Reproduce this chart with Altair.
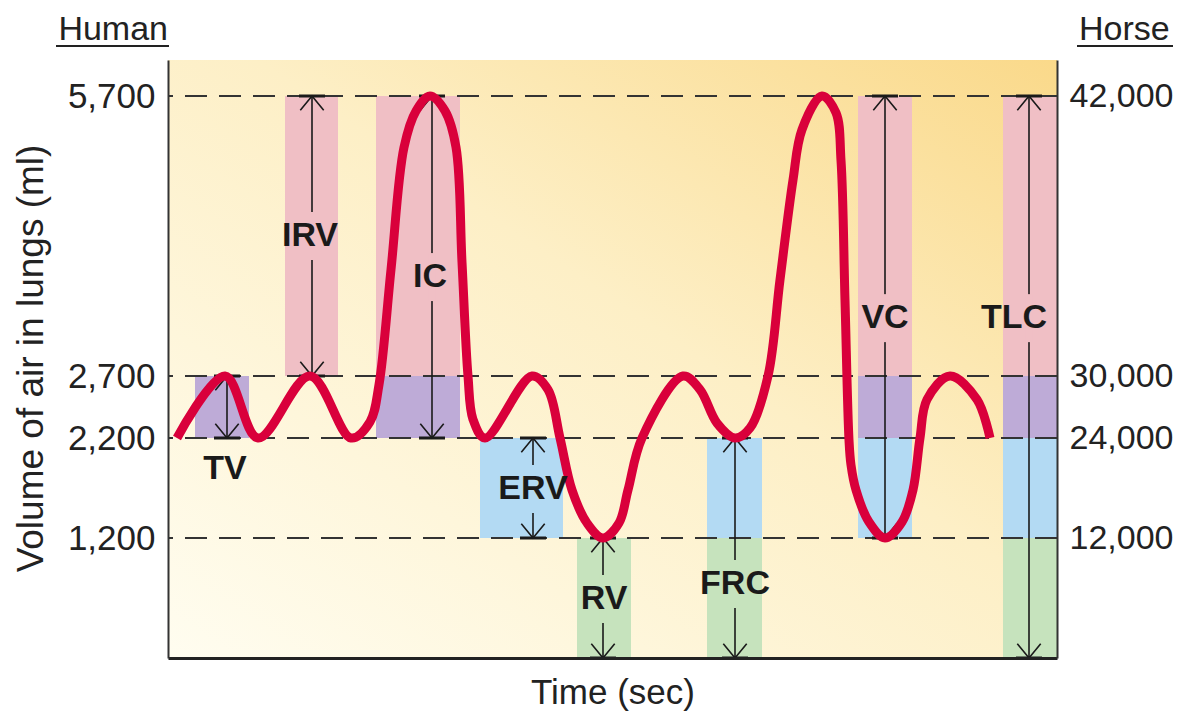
import altair as alt
import pandas as pd

FONT = "Liberation Sans"

# ---------------- data ----------------
titles = ["Human", "Horse"]
human_levels = [1200, 2200, 2700, 5700]
horse_levels = [12000, 24000, 30000, 42000]

# breathing trace, points (time units, ml)
curve_t = [9, 57, 90, 142, 183, 202, 211, 223, 236, 248, 262, 277, 288, 294, 300, 305, 317,
           364, 380, 392, 404, 419, 435, 451, 460, 474, 515, 532, 549, 567,
           582, 600, 612, 625, 634, 654, 668, 673, 677, 681, 683, 688, 701, 717,
           734, 745, 752, 759, 782, 809, 822]
curve_ml = [2200, 2700, 2200, 2700, 2200, 2330, 2630, 3840, 5150, 5540, 5700, 5540, 5150, 3920, 2700, 2350, 2200,
            2700, 2590, 2200, 1680, 1350, 1200, 1350, 1680, 2200, 2700, 2590, 2320, 2200,
            2280, 2700, 3730, 4800, 5340, 5700, 5520, 5010, 3510, 2180, 1930, 1680, 1360, 1200,
            1360, 1680, 2200, 2510, 2700, 2510, 2200]

band_names = ["RV", "ERV", "TV", "IRV"]
band_low = [0, 1200, 2200, 2700]
band_high = [1200, 2200, 2700, 5700]
band_colors = ["#C6E3BD", "#B3DAF3", "#BEABD7", "#F0BFC5"]

box_names = ["TV", "IRV", "IC", "ERV", "RV", "FRC", "VC", "TLC"]
box_t0 = [27, 117, 208, 312, 409, 539, 690, 835]
box_t1 = [81, 170, 292, 395, 463, 594, 744, 889]
box_parts = [["TV"], ["IRV"], ["IRV", "TV"], ["ERV"], ["RV"], ["ERV", "RV"],
             ["IRV", "TV", "ERV"], ["IRV", "TV", "ERV", "RV"]]
arrow_t = [59, 144, 264, 365, 435, 567, 717, 861]
arrow_lo = [2200, 2700, 2200, 1200, 0, 0, 1200, 0]
arrow_hi = [2700, 5700, 5700, 2200, 1200, 2200, 5700, 5700]
label_t = [57, 142, 262, 365, 436, 567, 717, 846]
label_ml = [1890, 4200, 3760, 1690, 590, 740, 3320, 3320]

x_domain = [0, 889]
y_breaks = [0, 2200, 2700, 5700, 6085]
y_pixels = [598, 378, 316, 36, 0]

# ---------------- tables ----------------
band_color = dict(zip(band_names, band_colors))
band_lo = dict(zip(band_names, band_low))
band_hi = dict(zip(band_names, band_high))

bars_rows = []
for name, t0, t1, parts in zip(box_names, box_t0, box_t1, box_parts):
    for p in parts:
        bars_rows.append({"box": name, "t0": t0, "t1": t1, "lo": band_lo[p], "hi": band_hi[p], "c": band_color[p]})
bars_df = pd.DataFrame(bars_rows)

arrows_df = pd.DataFrame({"name": box_names, "t": arrow_t, "lo": arrow_lo, "hi": arrow_hi})
labels_df = pd.DataFrame({"name": box_names, "t": label_t, "ml": label_ml})

mask_rows = []
for t, lo, hi, lm in zip(arrow_t, arrow_lo, arrow_hi, label_ml):
    if lo < lm < hi:
        c = [band_color[n] for n in band_names if band_lo[n] <= lm < band_hi[n]][0]
        mask_rows.append({"t": t, "ml": lm, "c": c})
mask_df = pd.DataFrame(mask_rows)

curve_df = pd.DataFrame({"t": curve_t, "ml": curve_ml, "i": list(range(len(curve_t)))})
levels_df = pd.DataFrame({"ml": human_levels})
bg_df = pd.DataFrame({"t0": [x_domain[0]], "t1": [x_domain[1]], "lo": [y_breaks[0]], "hi": [y_breaks[-1]]})

# ---------------- scales & axes ----------------
xscale = alt.Scale(domain=x_domain, nice=False, zero=False)
yscale = alt.Scale(domain=y_breaks, range=y_pixels, nice=False, zero=False)

xaxis = alt.Axis(labels=False, ticks=False, grid=False, domainColor="#222222", domainWidth=3,
                 title="Time (sec)", titleFont=FONT, titleFontSize=35, titleFontWeight="normal",
                 titleColor="#222222", titleY=45, titleBaseline="alphabetic", zindex=1)
yaxis = alt.Axis(orient="left", values=human_levels, format=",d", ticks=False, grid=False,
                 domainColor="#333333", domainWidth=2, labelFont=FONT, labelFontSize=35,
                 labelColor="#222222", labelPadding=13, labelOverlap=False,
                 title="Volume of air in lungs (ml)", titleFont=FONT, titleFontSize=37,
                 titleFontWeight="normal", titleColor="#222222", titleAngle=-90,
                 titleX=-126, titleY=298, titleAlign="center", titleBaseline="alphabetic", zindex=1)

horse_expr = " : ".join(f"datum.value == {h} ? '{r:,}'" for h, r in zip(human_levels[:-1], horse_levels[:-1]))
horse_expr += f" : '{horse_levels[-1]:,}'"
yaxis_right = alt.Axis(orient="right", values=human_levels, labelExpr=horse_expr, ticks=False, grid=False,
                       domainColor="#333333", domainWidth=2, labelFont=FONT, labelFontSize=34,
                       labelColor="#222222", labelPadding=12, labelOverlap=False, title="", zindex=1)


def X(f):
    return alt.X(f"{f}:Q", scale=xscale, axis=xaxis)


def Y(f):
    return alt.Y(f"{f}:Q", scale=yscale, axis=yaxis)


UP = "M -0.9 1.1 L 0 0 L 0.9 1.1"
DOWN = "M -0.9 -1.1 L 0 0 L 0.9 -1.1"
CAP = "M -1 0 L 1 0"
MASK = "M -0.15 -1 L 0.15 -1 L 0.15 1 L -0.15 1 Z"
INK = "#1a1a1a"

bg = alt.Chart(bg_df).mark_rect(
    fill=alt.Gradient(gradient="linear",
                      stops=[alt.GradientStop(color="#FFFDF0", offset=0),
                             alt.GradientStop(color="#FDEFC6", offset=0.55),
                             alt.GradientStop(color="#FAD98A", offset=1)],
                      x1=0, y1=1, x2=1, y2=0)
).encode(x=X("t0"), x2="t1:Q", y=Y("lo"), y2="hi:Q")

bars = alt.Chart(bars_df).mark_rect().encode(
    x=X("t0"), x2="t1:Q", y=Y("lo"), y2="hi:Q", color=alt.Color("c:N", scale=None))

dashes = alt.Chart(levels_df).mark_rule(strokeDash=[22, 12], color="#333333", strokeWidth=2).encode(y=Y("ml"))

arrow_lines = alt.Chart(arrows_df).mark_rule(color=INK, strokeWidth=1.6).encode(
    x=X("t"), y=Y("lo"), y2="hi:Q")
heads_up = alt.Chart(arrows_df).mark_point(shape=UP, size=676, filled=False, opacity=1,
                                           strokeWidth=1.6, color=INK).encode(x=X("t"), y=Y("hi"))
heads_down = alt.Chart(arrows_df).mark_point(shape=DOWN, size=676, filled=False, opacity=1,
                                             strokeWidth=1.6, color=INK).encode(x=X("t"), y=Y("lo"))
caps_top = alt.Chart(arrows_df).mark_point(shape=CAP, size=676, filled=False, opacity=1,
                                           strokeWidth=3, color=INK).encode(x=X("t"), y=Y("hi"))
caps_bot = alt.Chart(arrows_df).mark_point(shape=CAP, size=676, filled=False, opacity=1,
                                           strokeWidth=3, color=INK).encode(x=X("t"), y=Y("lo"))
masks = alt.Chart(mask_df).mark_point(shape=MASK, size=2304, filled=True, opacity=1, strokeWidth=0).encode(
    x=X("t"), y=Y("ml"), color=alt.Color("c:N", scale=None))

curve = alt.Chart(curve_df).mark_line(interpolate="catmull-rom", color="#D9003B", strokeWidth=9,
                                      strokeCap="butt", strokeJoin="round").encode(
    x=X("t"), y=Y("ml"), order="i:Q")

labels = alt.Chart(labels_df).mark_text(fontSize=34, fontWeight="bold", font=FONT, color=INK,
                                        align="center", baseline="middle").encode(
    x=X("t"), y=Y("ml"), text="name:N")

one = pd.DataFrame({"k": [0]})
human_t = alt.Chart(one).mark_text(text=titles[0], font=FONT, fontSize=34, color="#222222",
                                   align="right", baseline="alphabetic").encode(x=alt.value(0), y=alt.value(-20))
human_u = alt.Chart(one).mark_rule(color="#222222", strokeWidth=2).encode(
    x=alt.value(-112), x2=alt.value(1), y=alt.value(-14))
horse_t = alt.Chart(one).mark_text(text=titles[1], font=FONT, fontSize=34, color="#222222",
                                   align="left", baseline="alphabetic").encode(x=alt.value(911), y=alt.value(-20))
horse_u = alt.Chart(one).mark_rule(color="#222222", strokeWidth=2).encode(
    x=alt.value(909), x2=alt.value(1005), y=alt.value(-14))

main = alt.layer(bg, bars, dashes, arrow_lines, heads_up, heads_down, caps_top, caps_bot,
                 masks, curve, labels, human_t, human_u, horse_t, horse_u)

horse_axis_layer = alt.Chart(levels_df).mark_rule(opacity=0).encode(
    y=alt.Y("ml:Q", scale=yscale, axis=yaxis_right))

chart = alt.layer(main, horse_axis_layer).resolve_scale(y="independent").properties(
    width=889, height=598,
    padding={"left": 160, "top": 52, "right": 119, "bottom": 53},
    autosize=alt.AutoSizeParams(type="none"),
).configure_view(stroke=None)

chart.save("out.html", embed_options={"renderer": "svg", "actions": False})
